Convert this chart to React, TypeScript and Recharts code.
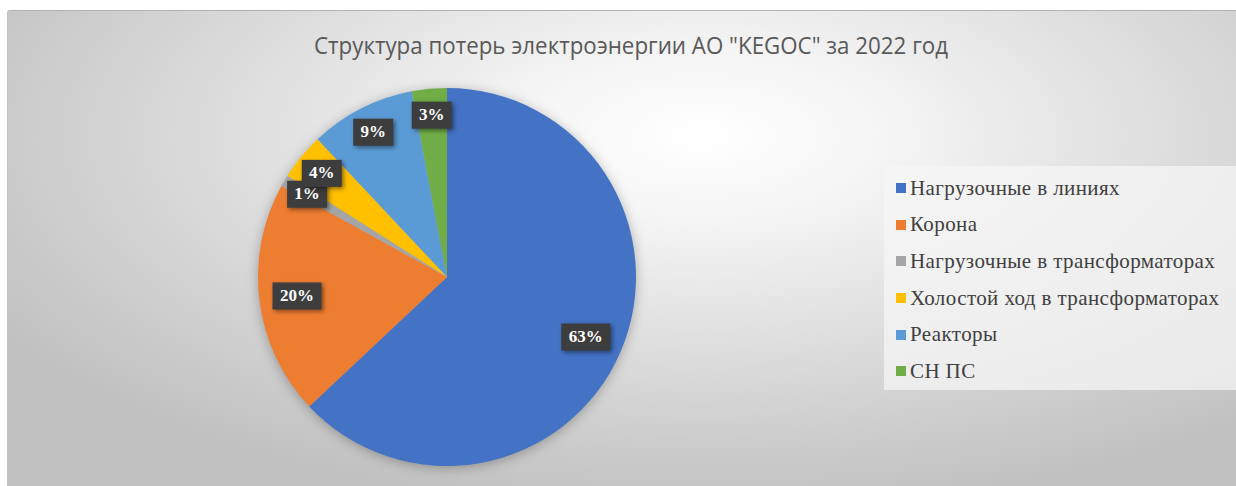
import { PieChart, Pie, Cell, Legend } from "recharts";

const categories = [
  "Нагрузочные в линиях",
  "Корона",
  "Нагрузочные в трансформаторах",
  "Холостой ход в трансформаторах",
  "Реакторы",
  "СН ПС",
];
const shares = [63, 20, 1, 4, 9, 3];
const colors = ["#4472C4", "#ED7D31", "#A5A5A5", "#FFC000", "#5B9BD5", "#70AD47"];
const title = 'Структура потерь электроэнергии АО "KEGOC" за 2022 год';

const data = categories.map((name, i) => ({ name, value: shares[i] }));

const RAD = Math.PI / 180;

function renderLabel(props: any) {
  const { cx, cy, midAngle, outerRadius, value } = props;
  const r = outerRadius * (value > 10 ? 0.8 : 0.86);
  const x = cx + r * Math.cos(-midAngle * RAD);
  const y = cy + r * Math.sin(-midAngle * RAD);
  const text = `${value}%`;
  const w = text.length === 2 ? 40 : 49;
  return (
    <g>
      <rect
        x={x - w / 2}
        y={y - 13.5}
        width={w}
        height={27}
        fill="#3d3d3d"
        style={{ filter: "drop-shadow(2px 2px 2px rgba(0,0,0,0.45))" }}
      />
      <text
        x={x}
        y={y + 1}
        textAnchor="middle"
        dominantBaseline="middle"
        fill="#ffffff"
        fontFamily="'Liberation Serif', 'Times New Roman', serif"
        fontWeight="bold"
        fontSize={17}
      >
        {text}
      </text>
    </g>
  );
}

function LegendList({ payload }: any) {
  const items = [...(payload || [])].sort(
    (a: any, b: any) => categories.indexOf(a.value) - categories.indexOf(b.value)
  );
  return (
    <div
      style={{
        width: 353,
        height: 224,
        background: "rgba(246,246,246,0.75)",
        boxSizing: "border-box",
        paddingTop: 4,
        paddingLeft: 12,
      }}
    >
      {items.map((p: any) => (
        <div
          key={p.value}
          style={{
            height: 36.6,
            display: "flex",
            alignItems: "center",
            fontFamily: "'Liberation Serif', 'Times New Roman', serif",
            fontSize: 21,
            letterSpacing: 0.4,
            color: "#404040",
            whiteSpace: "nowrap",
          }}
        >
          <span
            style={{
              display: "inline-block",
              width: 10,
              height: 10,
              background: p.color,
              marginRight: 4,
            }}
          />
          {p.value}
        </div>
      ))}
    </div>
  );
}

export default function App() {
  return (
    <div style={{ position: "relative", width: 1236, height: 486, background: "#ffffff", overflow: "hidden" }}>
      <style>{"body{margin:0} .recharts-pie{filter:drop-shadow(0 2px 6px rgba(0,0,0,0.28))}"}</style>
      <div
        style={{
          position: "absolute",
          left: 7,
          top: 10,
          width: 1240,
          height: 480,
          borderTop: "1px solid #b3b3b3",
          borderLeft: "1px solid #c4c4c4",
          borderTopLeftRadius: 3,
          background:
            "radial-gradient(ellipse 68% 80% at 56% 26%, #ffffff 0%, #f6f6f6 20%, #e0e0e0 52%, #cbcbcb 82%, #c0c0c0 100%)",
        }}
      >
        <svg width={1229} height={60} style={{ position: "absolute", left: 0, top: 0 }}>
          <text
            x={306}
            y={43}
            textLength={634}
            lengthAdjust="spacingAndGlyphs"
            fill="#595959"
            fontFamily="'Open Sans', 'Noto Sans', sans-serif"
            fontSize={23}
          >
            {title}
          </text>
        </svg>
        <PieChart
          width={1229}
          height={476}
          margin={{ top: 0, right: 0, bottom: 0, left: 0 }}
          style={{ position: "absolute", left: 0, top: 0 }}
        >
          <Pie
            data={data}
            dataKey="value"
            nameKey="name"
            cx={439}
            cy={266}
            outerRadius={189}
            startAngle={90}
            endAngle={-270}
            stroke="none"
            label={renderLabel}
            labelLine={false}
            isAnimationActive={false}
          >
            {data.map((d, i) => (
              <Cell key={d.name} fill={colors[i]} />
            ))}
          </Pie>
          <Legend
            layout="vertical"
            content={<LegendList />}
            wrapperStyle={{ position: "absolute", left: 876, top: 155, width: 353, height: 224 }}
          />
        </PieChart>
      </div>
    </div>
  );
}
